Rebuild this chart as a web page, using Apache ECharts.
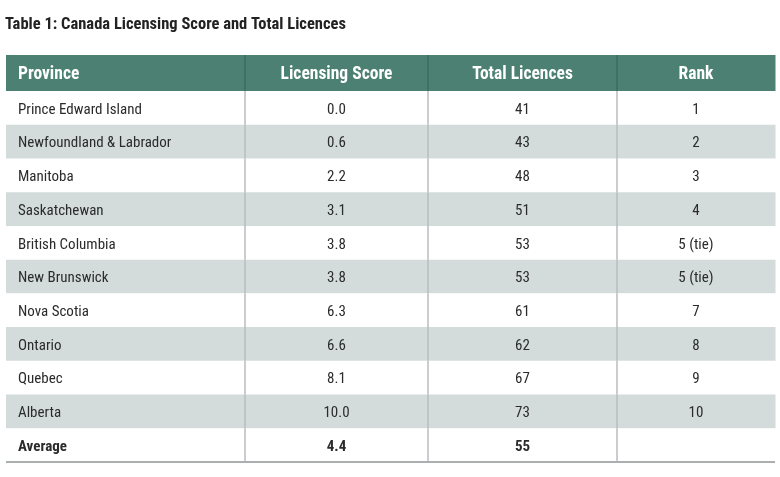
<!DOCTYPE html>
<html>
<head>
<meta charset="utf-8">
<script src="https://cdn.jsdelivr.net/npm/echarts@6/dist/echarts.min.js"></script>
<style>
html,body{margin:0;padding:0;background:#fff;}
#chart{width:780px;height:477px;}
</style>
</head>
<body>
<div id="chart"></div>
<script>
const titleText = 'Table 1: Canada Licensing Score and Total Licences';
const headers = ['Province', 'Licensing Score', 'Total Licences', 'Rank'];
const provinces = ['Prince Edward Island', 'Newfoundland & Labrador', 'Manitoba', 'Saskatchewan', 'British Columbia', 'New Brunswick', 'Nova Scotia', 'Ontario', 'Quebec', 'Alberta'];
const scores = [0.0, 0.6, 2.2, 3.1, 3.8, 3.8, 6.3, 6.6, 8.1, 10.0];
const licences = [41, 43, 48, 51, 53, 53, 61, 62, 67, 73];
const ranks = ['1', '2', '3', '4', '5 (tie)', '5 (tie)', '7', '8', '9', '10'];
const averageLabel = 'Average';
const averageScore = 4.4;
const averageLicences = 55;

const FONT = '"Roboto Condensed", "Liberation Sans Narrow", "DejaVu Sans Condensed", sans-serif';
const HEADER_BG = '#4b8073';
const STRIPE_BG = '#d4dcdb';
const rowKeys = provinces.concat([averageLabel]);

const bodyColumns = [
  provinces.concat([averageLabel]),
  scores.map(v => v.toFixed(1)).concat([averageScore.toFixed(1)]),
  licences.map(String).concat([String(averageLicences)]),
  ranks.concat([''])
];

const layout = [
  {left: 6, width: 239, align: 'left'},
  {left: 245, width: 183, align: 'center'},
  {left: 428, width: 189, align: 'center'},
  {left: 617, width: 158, align: 'center'}
];

const chart = echarts.init(document.getElementById('chart'));

const grids = [], xAxes = [], yAxes = [], series = [];

function textX(cs, align) {
  return align === 'left' ? cs.x + 12 : cs.x + cs.width / 2;
}

layout.forEach((L, ci) => {
  // header grid
  const hg = grids.length;
  grids.push({left: L.left, width: L.width, top: 55, height: 36});
  xAxes.push({type: 'value', gridIndex: hg, min: 0, max: 1, show: false});
  yAxes.push({type: 'category', gridIndex: hg, data: ['header'], show: false});
  series.push({
    type: 'custom', xAxisIndex: hg, yAxisIndex: hg, silent: true,
    data: [[0.5, 0, headers[ci]]],
    renderItem: function (params, api) {
      const c = api.coord([0.5, 0]);
      const h = api.size([0, 1])[1];
      const cs = params.coordSys;
      const top = c[1] - h / 2;
      const children = [{
        type: 'rect', shape: {x: cs.x, y: top, width: cs.width + 0.5, height: h},
        style: {fill: HEADER_BG}
      }];
      if (ci > 0) children.push({
        type: 'line', shape: {x1: cs.x, y1: top, x2: cs.x, y2: top + h},
        style: {stroke: '#3d6d61', lineWidth: 1.5}
      });
      children.push({
        type: 'text',
        style: {
          text: headers[ci], x: textX(cs, L.align), y: c[1] + 1.5,
          align: L.align, verticalAlign: 'middle',
          fontFamily: FONT, fontSize: 17.5, fontWeight: 'bold', fill: '#ffffff'
        }
      });
      return {type: 'group', children: children};
    }
  });

  // body grid
  const bg = grids.length;
  grids.push({left: L.left, width: L.width, top: 91, bottom: 15});
  xAxes.push({type: 'value', gridIndex: bg, min: 0, max: 1, show: false});
  yAxes.push({type: 'category', gridIndex: bg, data: rowKeys, inverse: true, show: false});
  series.push({
    type: 'custom', xAxisIndex: bg, yAxisIndex: bg, silent: true,
    data: bodyColumns[ci].map((t, ri) => [0.5, ri, t]),
    renderItem: function (params, api) {
      const ri = api.value(1);
      const text = bodyColumns[ci][ri];
      const c = api.coord([0.5, ri]);
      const h = api.size([0, 1])[1];
      const cs = params.coordSys;
      const top = c[1] - h / 2;
      const isAvg = ri === rowKeys.length - 1;
      const stripe = !isAvg && ri % 2 === 1;
      const children = [{
        type: 'rect',
        shape: {x: cs.x, y: top, width: cs.width + 0.5, height: h + 0.5},
        style: {fill: stripe ? STRIPE_BG : '#ffffff'}
      }];
      if (ci > 0) children.push({
        type: 'line', shape: {x1: cs.x, y1: top, x2: cs.x, y2: top + h},
        style: {stroke: '#b9bcbc', lineWidth: 1.5}
      });
      if (isAvg) children.push({
        type: 'line', shape: {x1: cs.x, y1: top + h, x2: cs.x + cs.width, y2: top + h},
        style: {stroke: '#8f9494', lineWidth: 1.5}
      });
      children.push({
        type: 'text',
        style: {
          text: text, x: textX(cs, L.align), y: c[1] + 2,
          align: L.align, verticalAlign: 'middle',
          fontFamily: FONT, fontSize: 15,
          fontWeight: isAvg ? 'bold' : 'normal',
          fill: '#2b2b2b'
        }
      });
      return {type: 'group', children: children};
    }
  });
});

chart.setOption({
  animation: false,
  backgroundColor: '#ffffff',
  title: {
    text: titleText,
    left: 5,
    top: 16,
    padding: 0,
    textStyle: {fontFamily: FONT, fontSize: 16.5, fontWeight: 'bold', color: '#222222'}
  },
  grid: grids,
  xAxis: xAxes,
  yAxis: yAxes,
  series: series
});
</script>
</body>
</html>
